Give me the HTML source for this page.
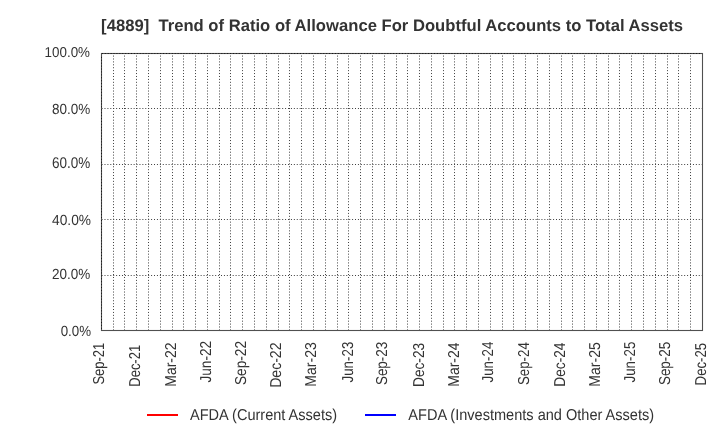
<!DOCTYPE html>
<html><head><meta charset="utf-8"><title>[4889] Trend of Ratio of Allowance For Doubtful Accounts to Total Assets</title><style>
html,body{margin:0;padding:0;background:#fff;width:720px;height:440px;overflow:hidden}
svg{display:block}
text{font-family:"Liberation Sans",Arial,Helvetica,sans-serif;fill:#333;text-rendering:geometricPrecision}
.k{font-size:13.5px}
.lg{font-size:14.56px}
.title{font-size:16.63px;font-weight:bold;white-space:pre;fill:#333}
</style></head><body>
<svg width="720" height="440" viewBox="0 0 720 440">
<rect width="720" height="440" fill="#fff"/>
<line x1="101.6" y1="275.5" x2="702" y2="275.5" stroke="#3a3a3a" stroke-width="1" stroke-dasharray="0.971 1.942"/>
<line x1="101.6" y1="219.5" x2="702" y2="219.5" stroke="#3a3a3a" stroke-width="1" stroke-dasharray="0.971 1.942"/>
<line x1="101.6" y1="164.5" x2="702" y2="164.5" stroke="#3a3a3a" stroke-width="1" stroke-dasharray="0.971 1.942"/>
<line x1="101.6" y1="108.5" x2="702" y2="108.5" stroke="#3a3a3a" stroke-width="1" stroke-dasharray="0.971 1.942"/>
<line x1="113.5" y1="55.6" x2="113.5" y2="330" stroke="#3a3a3a" stroke-width="1" stroke-dasharray="0.971 1.942"/>
<line x1="124.5" y1="55.6" x2="124.5" y2="330" stroke="#3a3a3a" stroke-width="1" stroke-dasharray="0.971 1.942"/>
<line x1="136.5" y1="55.6" x2="136.5" y2="330" stroke="#3a3a3a" stroke-width="1" stroke-dasharray="0.971 1.942"/>
<line x1="148.5" y1="55.6" x2="148.5" y2="330" stroke="#3a3a3a" stroke-width="1" stroke-dasharray="0.971 1.942"/>
<line x1="160.5" y1="55.6" x2="160.5" y2="330" stroke="#3a3a3a" stroke-width="1" stroke-dasharray="0.971 1.942"/>
<line x1="172.5" y1="55.6" x2="172.5" y2="330" stroke="#3a3a3a" stroke-width="1" stroke-dasharray="0.971 1.942"/>
<line x1="183.5" y1="55.6" x2="183.5" y2="330" stroke="#3a3a3a" stroke-width="1" stroke-dasharray="0.971 1.942"/>
<line x1="195.5" y1="55.6" x2="195.5" y2="330" stroke="#3a3a3a" stroke-width="1" stroke-dasharray="0.971 1.942"/>
<line x1="207.5" y1="55.6" x2="207.5" y2="330" stroke="#3a3a3a" stroke-width="1" stroke-dasharray="0.971 1.942"/>
<line x1="219.5" y1="55.6" x2="219.5" y2="330" stroke="#3a3a3a" stroke-width="1" stroke-dasharray="0.971 1.942"/>
<line x1="230.5" y1="55.6" x2="230.5" y2="330" stroke="#3a3a3a" stroke-width="1" stroke-dasharray="0.971 1.942"/>
<line x1="242.5" y1="55.6" x2="242.5" y2="330" stroke="#3a3a3a" stroke-width="1" stroke-dasharray="0.971 1.942"/>
<line x1="254.5" y1="55.6" x2="254.5" y2="330" stroke="#3a3a3a" stroke-width="1" stroke-dasharray="0.971 1.942"/>
<line x1="266.5" y1="55.6" x2="266.5" y2="330" stroke="#3a3a3a" stroke-width="1" stroke-dasharray="0.971 1.942"/>
<line x1="278.5" y1="55.6" x2="278.5" y2="330" stroke="#3a3a3a" stroke-width="1" stroke-dasharray="0.971 1.942"/>
<line x1="289.5" y1="55.6" x2="289.5" y2="330" stroke="#3a3a3a" stroke-width="1" stroke-dasharray="0.971 1.942"/>
<line x1="301.5" y1="55.6" x2="301.5" y2="330" stroke="#3a3a3a" stroke-width="1" stroke-dasharray="0.971 1.942"/>
<line x1="313.5" y1="55.6" x2="313.5" y2="330" stroke="#3a3a3a" stroke-width="1" stroke-dasharray="0.971 1.942"/>
<line x1="325.5" y1="55.6" x2="325.5" y2="330" stroke="#3a3a3a" stroke-width="1" stroke-dasharray="0.971 1.942"/>
<line x1="337.5" y1="55.6" x2="337.5" y2="330" stroke="#3a3a3a" stroke-width="1" stroke-dasharray="0.971 1.942"/>
<line x1="348.5" y1="55.6" x2="348.5" y2="330" stroke="#3a3a3a" stroke-width="1" stroke-dasharray="0.971 1.942"/>
<line x1="360.5" y1="55.6" x2="360.5" y2="330" stroke="#3a3a3a" stroke-width="1" stroke-dasharray="0.971 1.942"/>
<line x1="372.5" y1="55.6" x2="372.5" y2="330" stroke="#3a3a3a" stroke-width="1" stroke-dasharray="0.971 1.942"/>
<line x1="384.5" y1="55.6" x2="384.5" y2="330" stroke="#3a3a3a" stroke-width="1" stroke-dasharray="0.971 1.942"/>
<line x1="396.5" y1="55.6" x2="396.5" y2="330" stroke="#3a3a3a" stroke-width="1" stroke-dasharray="0.971 1.942"/>
<line x1="407.5" y1="55.6" x2="407.5" y2="330" stroke="#3a3a3a" stroke-width="1" stroke-dasharray="0.971 1.942"/>
<line x1="419.5" y1="55.6" x2="419.5" y2="330" stroke="#3a3a3a" stroke-width="1" stroke-dasharray="0.971 1.942"/>
<line x1="431.5" y1="55.6" x2="431.5" y2="330" stroke="#3a3a3a" stroke-width="1" stroke-dasharray="0.971 1.942"/>
<line x1="443.5" y1="55.6" x2="443.5" y2="330" stroke="#3a3a3a" stroke-width="1" stroke-dasharray="0.971 1.942"/>
<line x1="454.5" y1="55.6" x2="454.5" y2="330" stroke="#3a3a3a" stroke-width="1" stroke-dasharray="0.971 1.942"/>
<line x1="466.5" y1="55.6" x2="466.5" y2="330" stroke="#3a3a3a" stroke-width="1" stroke-dasharray="0.971 1.942"/>
<line x1="478.5" y1="55.6" x2="478.5" y2="330" stroke="#3a3a3a" stroke-width="1" stroke-dasharray="0.971 1.942"/>
<line x1="490.5" y1="55.6" x2="490.5" y2="330" stroke="#3a3a3a" stroke-width="1" stroke-dasharray="0.971 1.942"/>
<line x1="502.5" y1="55.6" x2="502.5" y2="330" stroke="#3a3a3a" stroke-width="1" stroke-dasharray="0.971 1.942"/>
<line x1="513.5" y1="55.6" x2="513.5" y2="330" stroke="#3a3a3a" stroke-width="1" stroke-dasharray="0.971 1.942"/>
<line x1="525.5" y1="55.6" x2="525.5" y2="330" stroke="#3a3a3a" stroke-width="1" stroke-dasharray="0.971 1.942"/>
<line x1="537.5" y1="55.6" x2="537.5" y2="330" stroke="#3a3a3a" stroke-width="1" stroke-dasharray="0.971 1.942"/>
<line x1="549.5" y1="55.6" x2="549.5" y2="330" stroke="#3a3a3a" stroke-width="1" stroke-dasharray="0.971 1.942"/>
<line x1="561.5" y1="55.6" x2="561.5" y2="330" stroke="#3a3a3a" stroke-width="1" stroke-dasharray="0.971 1.942"/>
<line x1="572.5" y1="55.6" x2="572.5" y2="330" stroke="#3a3a3a" stroke-width="1" stroke-dasharray="0.971 1.942"/>
<line x1="584.5" y1="55.6" x2="584.5" y2="330" stroke="#3a3a3a" stroke-width="1" stroke-dasharray="0.971 1.942"/>
<line x1="596.5" y1="55.6" x2="596.5" y2="330" stroke="#3a3a3a" stroke-width="1" stroke-dasharray="0.971 1.942"/>
<line x1="608.5" y1="55.6" x2="608.5" y2="330" stroke="#3a3a3a" stroke-width="1" stroke-dasharray="0.971 1.942"/>
<line x1="619.5" y1="55.6" x2="619.5" y2="330" stroke="#3a3a3a" stroke-width="1" stroke-dasharray="0.971 1.942"/>
<line x1="631.5" y1="55.6" x2="631.5" y2="330" stroke="#3a3a3a" stroke-width="1" stroke-dasharray="0.971 1.942"/>
<line x1="643.5" y1="55.6" x2="643.5" y2="330" stroke="#3a3a3a" stroke-width="1" stroke-dasharray="0.971 1.942"/>
<line x1="655.5" y1="55.6" x2="655.5" y2="330" stroke="#3a3a3a" stroke-width="1" stroke-dasharray="0.971 1.942"/>
<line x1="667.5" y1="55.6" x2="667.5" y2="330" stroke="#3a3a3a" stroke-width="1" stroke-dasharray="0.971 1.942"/>
<line x1="678.5" y1="55.6" x2="678.5" y2="330" stroke="#3a3a3a" stroke-width="1" stroke-dasharray="0.971 1.942"/>
<line x1="690.5" y1="55.6" x2="690.5" y2="330" stroke="#3a3a3a" stroke-width="1" stroke-dasharray="0.971 1.942"/>
<rect x="101.5" y="53.5" width="601" height="277" fill="none" stroke="#505050" stroke-width="1.1"/>
<line x1="101.9" y1="53.5" x2="702" y2="53.5" stroke="#151515" stroke-width="1" stroke-dasharray="0.971 1.942"/>
<line x1="101.5" y1="56.9" x2="101.5" y2="330" stroke="#151515" stroke-width="1" stroke-dasharray="0.971 1.942"/>
<text transform="translate(91.05,335.81) scale(1,1.0885)" text-anchor="end" textLength="30.43" lengthAdjust="spacingAndGlyphs" class="k">0.0%</text>
<text transform="translate(90.35,279.40) scale(1,1.0885)" text-anchor="end" textLength="38.28" lengthAdjust="spacingAndGlyphs" class="k">20.0%</text>
<text transform="translate(91.05,224.80) scale(1,1.0875)" text-anchor="end" textLength="38.98" lengthAdjust="spacingAndGlyphs" class="k">40.0%</text>
<text transform="translate(90.35,168.40) scale(1,1.1462)" text-anchor="end" textLength="38.28" lengthAdjust="spacingAndGlyphs" class="k">60.0%</text>
<text transform="translate(90.35,113.81) scale(1,1.0875)" text-anchor="end" textLength="38.28" lengthAdjust="spacingAndGlyphs" class="k">80.0%</text>
<text transform="translate(90.00,57.40) scale(1,1.0647)" text-anchor="end" textLength="45.45" lengthAdjust="spacingAndGlyphs" class="k">100.0%</text>
<text transform="translate(104.03,384.61) rotate(-90) scale(1,1.1704)" textLength="41.79" lengthAdjust="spacingAndGlyphs" class="k">Sep-21</text>
<text transform="translate(139.83,386.67) rotate(-90) scale(1,1.1704)" textLength="41.77" lengthAdjust="spacingAndGlyphs" class="k">Dec-21</text>
<text transform="translate(175.83,386.71) rotate(-90) scale(1,1.1704)" textLength="44.21" lengthAdjust="spacingAndGlyphs" class="k">Mar-22</text>
<text transform="translate(210.51,382.50) rotate(-90) scale(1,1.1704)" textLength="41.60" lengthAdjust="spacingAndGlyphs" class="k">Jun-22</text>
<text transform="translate(245.83,385.09) rotate(-90) scale(1,1.1704)" textLength="44.19" lengthAdjust="spacingAndGlyphs" class="k">Sep-22</text>
<text transform="translate(281.35,387.79) rotate(-90) scale(1,1.1704)" textLength="45.29" lengthAdjust="spacingAndGlyphs" class="k">Dec-22</text>
<text transform="translate(316.35,386.71) rotate(-90) scale(1,1.1704)" textLength="44.53" lengthAdjust="spacingAndGlyphs" class="k">Mar-23</text>
<text transform="translate(352.63,382.50) rotate(-90) scale(1,1.1704)" textLength="40.80" lengthAdjust="spacingAndGlyphs" class="k">Jun-23</text>
<text transform="translate(387.03,385.09) rotate(-90) scale(1,1.1704)" textLength="43.39" lengthAdjust="spacingAndGlyphs" class="k">Sep-23</text>
<text transform="translate(423.63,386.99) rotate(-90) scale(1,1.1704)" textLength="44.17" lengthAdjust="spacingAndGlyphs" class="k">Dec-23</text>
<text transform="translate(458.63,386.71) rotate(-90) scale(1,1.1704)" textLength="44.21" lengthAdjust="spacingAndGlyphs" class="k">Mar-24</text>
<text transform="translate(492.71,382.50) rotate(-90) scale(1,1.1704)" textLength="40.80" lengthAdjust="spacingAndGlyphs" class="k">Jun-24</text>
<text transform="translate(528.83,385.09) rotate(-90) scale(1,1.1704)" textLength="42.91" lengthAdjust="spacingAndGlyphs" class="k">Sep-24</text>
<text transform="translate(564.83,386.67) rotate(-90) scale(1,1.1704)" textLength="44.17" lengthAdjust="spacingAndGlyphs" class="k">Dec-24</text>
<text transform="translate(600.31,386.71) rotate(-90) scale(1,1.1704)" textLength="44.53" lengthAdjust="spacingAndGlyphs" class="k">Mar-25</text>
<text transform="translate(635.31,382.50) rotate(-90) scale(1,1.1704)" textLength="40.80" lengthAdjust="spacingAndGlyphs" class="k">Jun-25</text>
<text transform="translate(670.03,385.09) rotate(-90) scale(1,1.1704)" textLength="43.39" lengthAdjust="spacingAndGlyphs" class="k">Sep-25</text>
<text transform="translate(706.15,385.39) rotate(-90) scale(1,1.1704)" textLength="42.57" lengthAdjust="spacingAndGlyphs" class="k">Dec-25</text>
<text x="101.1" y="30.8" class="title" textLength="582" lengthAdjust="spacing">[4889]  Trend of Ratio of Allowance For Doubtful Accounts to Total Assets</text>
<line x1="147" y1="415" x2="178" y2="415" stroke="#f00" stroke-width="2"/>
<text transform="translate(190,419.8) scale(1,1.08)" class="lg">AFDA (Current Assets)</text>
<line x1="365" y1="415" x2="396" y2="415" stroke="#00f" stroke-width="2"/>
<text transform="translate(408.3,419.8) scale(1,1.08)" class="lg">AFDA (Investments and Other Assets)</text>
</svg>
</body></html>
